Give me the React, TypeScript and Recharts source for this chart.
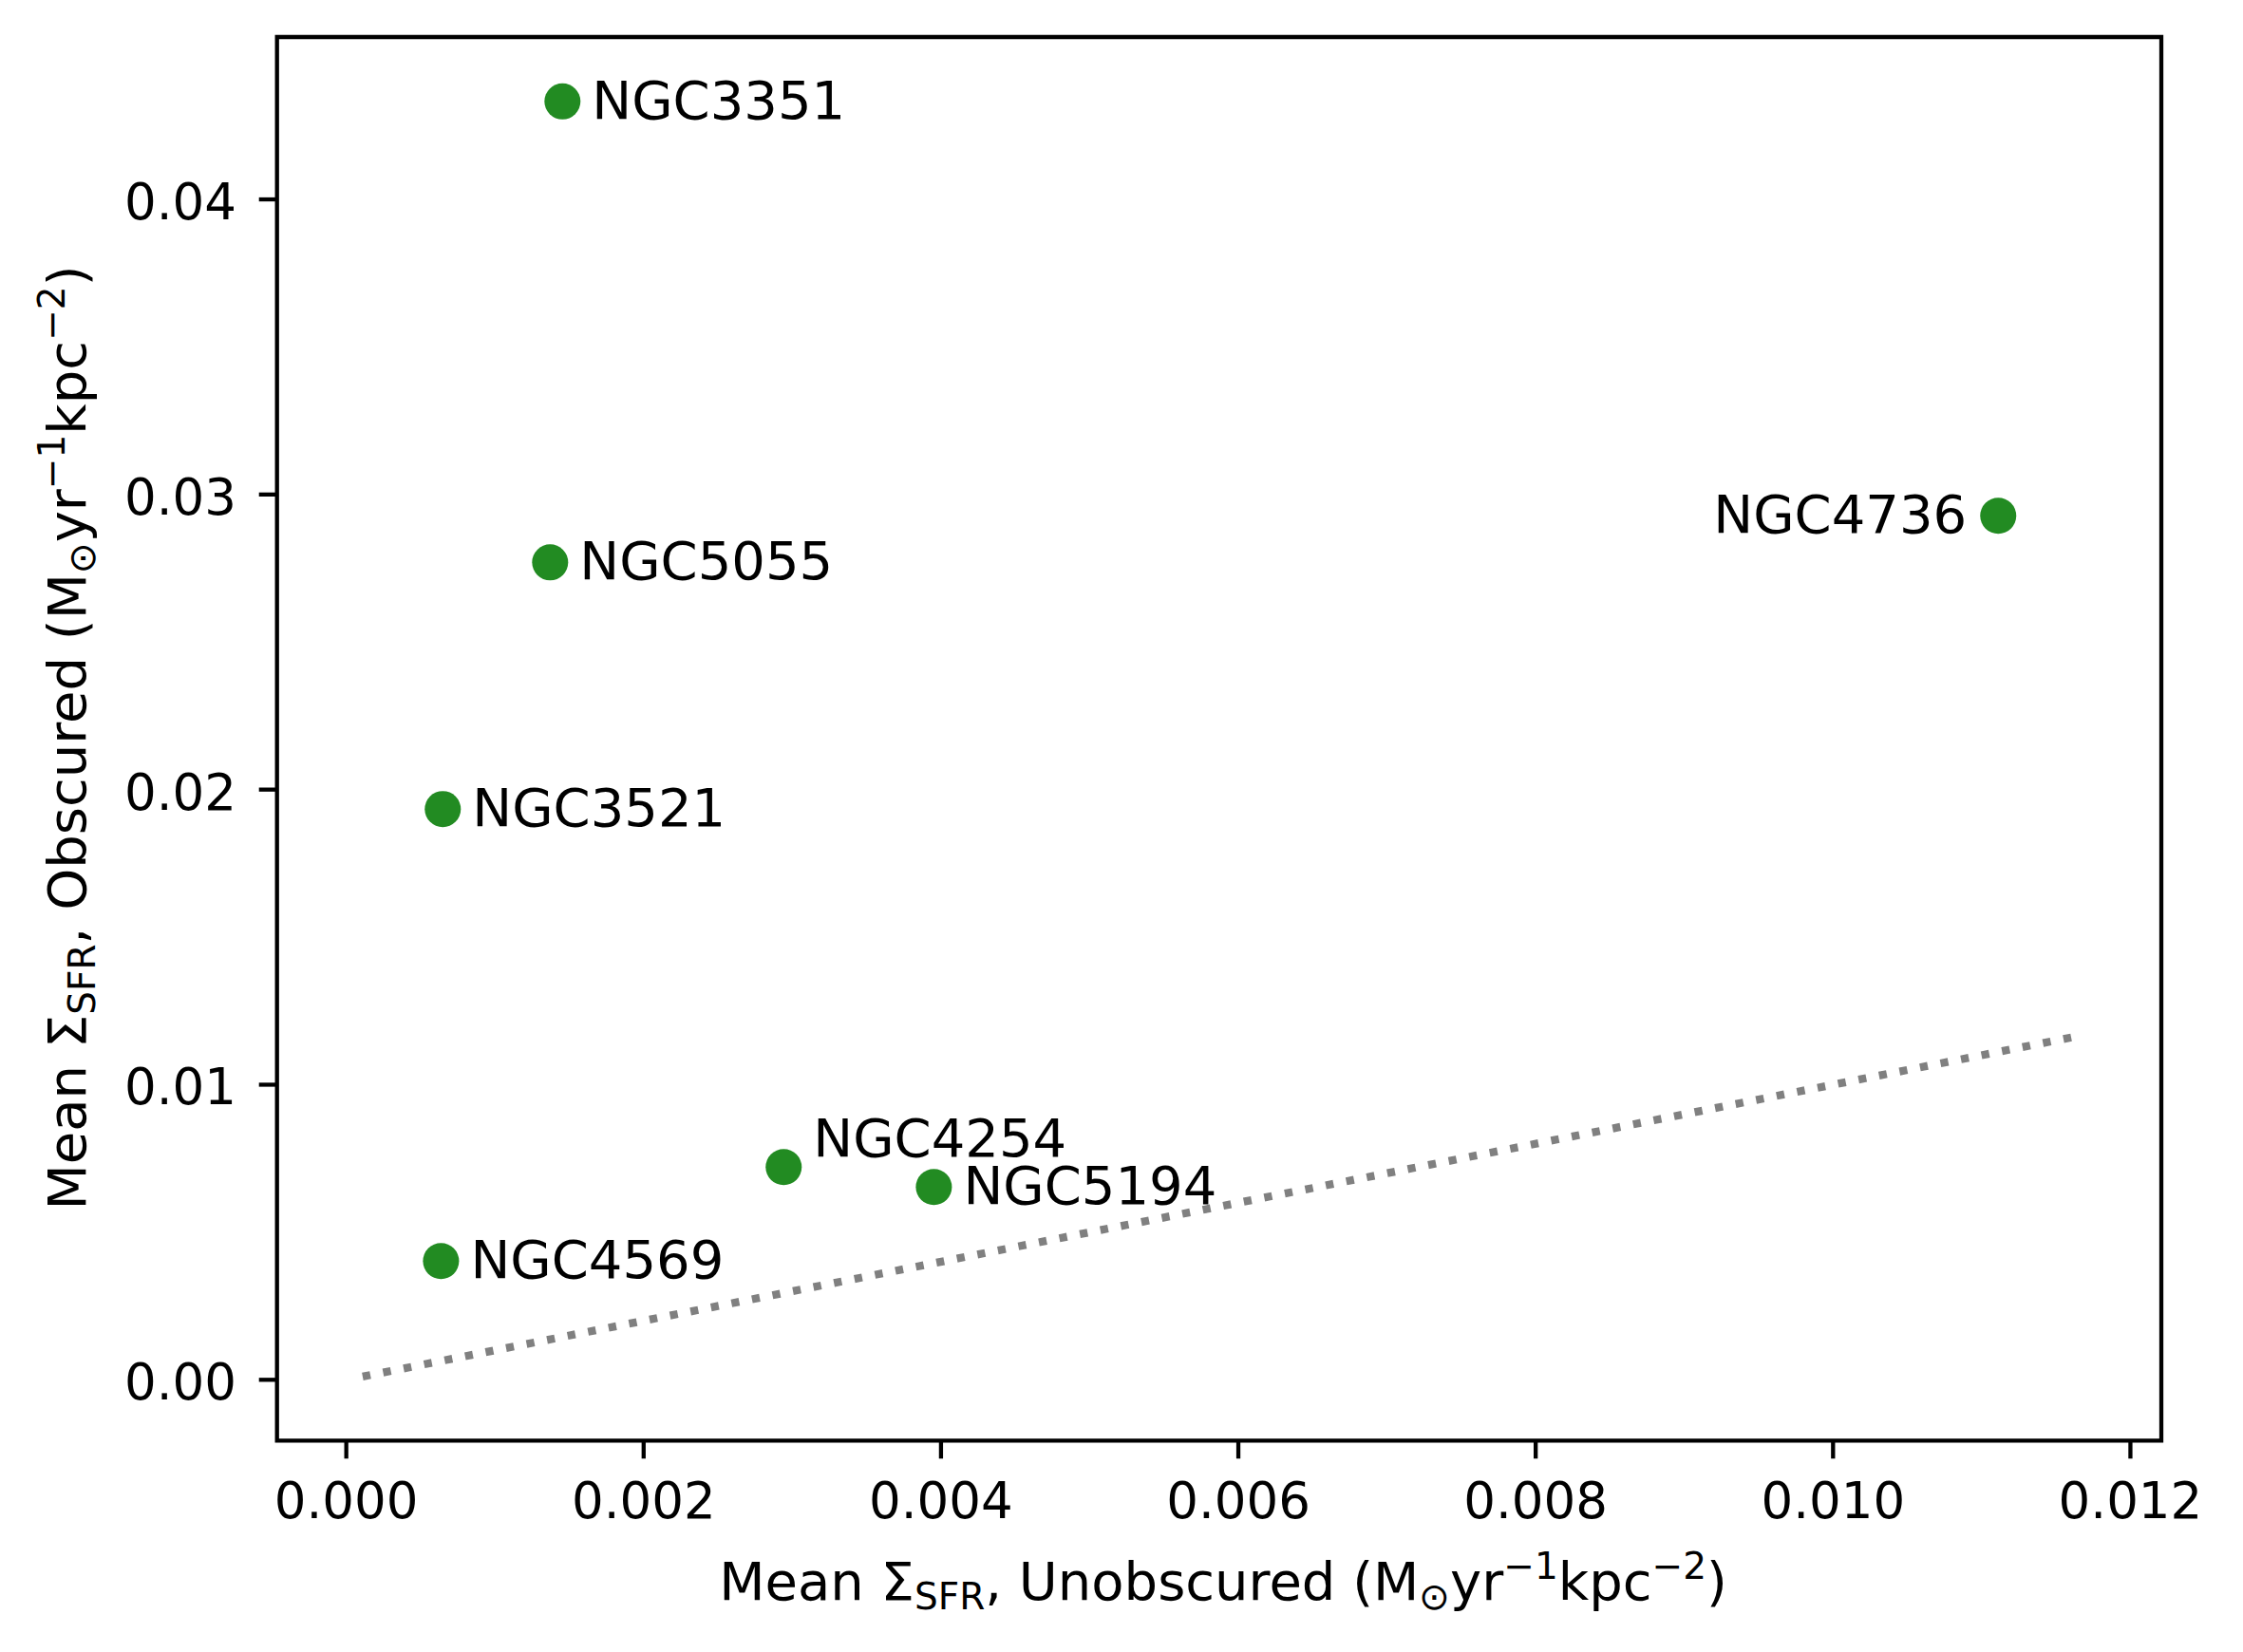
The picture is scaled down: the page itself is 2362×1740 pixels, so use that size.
import React from 'react';
import {
  ScatterChart,
  Scatter,
  XAxis,
  YAxis,
  ReferenceArea,
  Label,
} from 'recharts';

// galaxies, mean SFR surface densities (Msun / yr / kpc^2)
const galaxies = ['NGC3351', 'NGC5055', 'NGC3521', 'NGC4569', 'NGC4254', 'NGC5194', 'NGC4736'];
const unobscured = [0.001454, 0.001371, 0.000649, 0.000637, 0.002942, 0.003952, 0.011111];
const obscured = [0.04332, 0.0277, 0.01934, 0.004022, 0.007207, 0.006531, 0.02928];

// 1:1 reference line end points
const oneToOne = [0.00011, 0.01163];

const xTicks = [0, 0.002, 0.004, 0.006, 0.008, 0.01, 0.012];
const yTicks = [0, 0.01, 0.02, 0.03, 0.04];

const X_DOMAIN: [number, number] = [-0.000466, 0.012208];
const Y_DOMAIN: [number, number] = [-0.002059, 0.045502];

const WIDTH = 2362;
const HEIGHT = 1740;
const FONT = '"DejaVu Sans", sans-serif';
const FS = 53; // tick labels
const FS_NAME = 56; // galaxy names
const FS_TITLE = 56; // axis titles
const SUB = 39;
const GREEN = '#228B22';
const LW = 4.3;

// where each name sits next to its marker
const labelPlacement: Record<string, { dx: number; dy: number; anchor: 'start' | 'end' }> = {
  NGC4254: { dx: 31, dy: -11, anchor: 'start' },
  NGC4736: { dx: -33, dy: 18, anchor: 'end' },
};
const defaultPlacement = { dx: 31, dy: 18, anchor: 'start' as const };

const points = galaxies.map((name, i) => ({ name, x: unobscured[i], y: obscured[i] }));
const lineData = oneToOne.map((v) => ({ x: v, y: v }));

const GalaxyDot = (props: any) => {
  const { cx, cy, payload } = props;
  const p = labelPlacement[payload.name] || defaultPlacement;
  return (
    <g>
      <circle cx={cx} cy={cy} r={19} fill={GREEN} />
      <text
        x={cx + p.dx}
        y={cy + p.dy}
        textAnchor={p.anchor}
        fontFamily={FONT}
        fontSize={FS_NAME}
        fill="#000"
      >
        {payload.name}
      </text>
    </g>
  );
};

const XTick = (props: any) => {
  const { x, payload } = props;
  return (
    <text x={x} y={1599} textAnchor="middle" fontFamily={FONT} fontSize={FS} fill="#000">
      {Number(payload.value).toFixed(3)}
    </text>
  );
};

const YTick = (props: any) => {
  const { y, payload } = props;
  return (
    <text x={249} y={y + 21} textAnchor="end" fontFamily={FONT} fontSize={FS} fill="#000">
      {Number(payload.value).toFixed(2)}
    </text>
  );
};

const unitSpans = () => [
  <tspan key="u1"> (M</tspan>,
  <tspan key="u2" fontSize={SUB} dy={10}>⊙</tspan>,
  <tspan key="u3" dy={-10}>yr</tspan>,
  <tspan key="u4" fontSize={SUB} dy={-22}>−1</tspan>,
  <tspan key="u5" dy={22}>kpc</tspan>,
  <tspan key="u6" fontSize={SUB} dy={-22}>−2</tspan>,
  <tspan key="u7" dy={22}>)</tspan>,
];

const XTitle = () => (
  <text x={1288} y={1685} textAnchor="middle" fontFamily={FONT} fontSize={FS_TITLE} fill="#000">
    <tspan>Mean Σ</tspan>
    <tspan fontSize={SUB} dy={10}>SFR</tspan>
    <tspan dy={-10}>, Unobscured</tspan>
    {unitSpans()}
  </text>
);

const YTitle = () => (
  <text
    x={90}
    y={777}
    transform="rotate(-90, 90, 777)"
    textAnchor="middle"
    fontFamily={FONT}
    fontSize={FS_TITLE}
    fill="#000"
  >
    <tspan>Mean Σ</tspan>
    <tspan fontSize={SUB} dy={10}>SFR</tspan>
    <tspan dy={-10}>, Obscured</tspan>
    {unitSpans()}
  </text>
);

export default function App() {
  return (
    <div style={{ position: 'absolute', left: 0, top: 0, width: WIDTH, height: HEIGHT, background: '#fff' }}>
      <ScatterChart
        width={WIDTH}
        height={HEIGHT}
        margin={{ top: 39, right: 86, bottom: 22.7, left: 91.7 }}
      >
        <XAxis
          type="number"
          dataKey="x"
          domain={X_DOMAIN}
          allowDataOverflow
          ticks={xTicks}
          interval={0}
          height={200}
          axisLine={false}
          tickLine={{ stroke: '#000', strokeWidth: LW }}
          tickSize={19}
          tick={<XTick />}
        >
          <Label content={<XTitle />} />
        </XAxis>
        <YAxis
          type="number"
          dataKey="y"
          domain={Y_DOMAIN}
          allowDataOverflow
          ticks={yTicks}
          interval={0}
          width={200}
          axisLine={false}
          tickLine={{ stroke: '#000', strokeWidth: LW }}
          tickSize={19}
          tick={<YTick />}
        >
          <Label content={<YTitle />} />
        </YAxis>
        <ReferenceArea
          x1={X_DOMAIN[0]}
          x2={X_DOMAIN[1]}
          y1={Y_DOMAIN[0]}
          y2={Y_DOMAIN[1]}
          fill="none"
          fillOpacity={0}
          stroke="#000"
          strokeWidth={LW}
        />
        <Scatter
          data={lineData}
          line={{ stroke: '#808080', strokeWidth: 8.3, strokeDasharray: '8.3 13.7' }}
          lineType="joint"
          shape={() => <g />}
          isAnimationActive={false}
        />
        <Scatter data={points} shape={<GalaxyDot />} isAnimationActive={false} />
      </ScatterChart>
    </div>
  );
}
